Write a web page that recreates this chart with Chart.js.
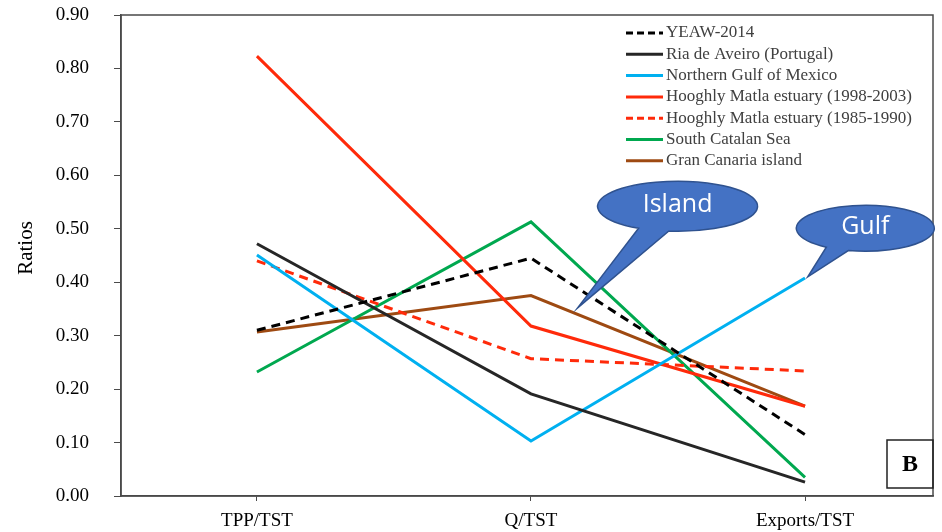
<!DOCTYPE html>
<html>
<head>
<meta charset="utf-8">
<script src="https://cdn.jsdelivr.net/npm/chart.js@4"></script>
<style>
  html, body { margin: 0; padding: 0; background: #fff; }
  #wrap { width: 942px; height: 532px; }
</style>
</head>
<body>
<div id="wrap"><canvas id="chart" width="942" height="532"></canvas></div>
<script>
// ---- data ----
const categories = ['TPP/TST', 'Q/TST', 'Exports/TST'];
const yTicks = [0, 0.1, 0.2, 0.3, 0.4, 0.5, 0.6, 0.7, 0.8, 0.9];

const yeaw2014      = [0.310, 0.445, 0.115];
const riaDeAveiro   = [0.472, 0.191, 0.026];
const gulfMexico    = [0.451, 0.103, 0.408];
const hooghly9803   = [0.823, 0.318, 0.168];
const hooghly8590   = [0.440, 0.257, 0.234];
const southCatalan  = [0.232, 0.513, 0.035];
const granCanaria   = [0.307, 0.375, 0.168];

const seriesNames = [
  'YEAW-2014',
  'Ria de Aveiro (Portugal)',
  'Northern Gulf of Mexico',
  'Hooghly Matla estuary (1998-2003)',
  'Hooghly Matla estuary (1985-1990)',
  'South Catalan Sea',
  'Gran Canaria island'
];
const seriesValues = [yeaw2014, riaDeAveiro, gulfMexico, hooghly9803, hooghly8590, southCatalan, granCanaria];
const seriesColors = ['#000000', '#262626', '#00B0F0', '#FF2A0A', '#FF2A0A', '#00A84F', '#9E4A12'];
const seriesDashed = [true, false, false, false, true, false, false];

// callouts (anchored in data units)
const callouts = [
  { text: 'Island', cx: 1.535, cy: 0.542, rx: 80, ry: 25, tipX: 1.17, tipY: 0.352, base: [-39, -9] },
  { text: 'Gulf',   cx: 2.22,  cy: 0.501, rx: 69, ry: 23, tipX: 2.01, tipY: 0.41,  base: [-39, -17] }
];

const serif = '"Liberation Serif", "Times New Roman", serif';

const datasets = seriesNames.map((name, i) => ({
  label: name,
  data: seriesValues[i].map((v, j) => ({ x: j, y: v })),
  borderColor: seriesColors[i],
  backgroundColor: seriesColors[i],
  borderWidth: 3,
  borderDash: seriesDashed[i] ? [9, 6] : [],
  pointRadius: 0,
  tension: 0,
  fill: false
}));

// frame, legend, axis title, callouts and the "B" box
const extras = {
  id: 'extras',
  afterDatasetsDraw(chart) {
    const ctx = chart.ctx;
    const a = chart.chartArea;
    const xs = chart.scales.x, ys = chart.scales.y;
    ctx.save();

    // frame around the plot
    ctx.strokeStyle = '#4a4a4a';
    ctx.lineWidth = 1.5;
    ctx.strokeRect(a.left, a.top, a.right - a.left, a.bottom - a.top);

    // y axis title
    ctx.save();
    ctx.translate(26, 248);
    ctx.rotate(-Math.PI / 2);
    ctx.font = '21px ' + serif;
    ctx.fillStyle = '#000';
    ctx.textAlign = 'center';
    ctx.textBaseline = 'middle';
    ctx.fillText('Ratios', 0, 0);
    ctx.restore();

    // legend
    ctx.font = '17px ' + serif;
    ctx.textBaseline = 'middle';
    ctx.textAlign = 'left';
    chart.data.datasets.forEach((ds, i) => {
      const y = 33 + i * 21.3;
      ctx.beginPath();
      ctx.setLineDash(ds.borderDash.length ? [7, 4] : []);
      ctx.strokeStyle = ds.borderColor;
      ctx.lineWidth = 3;
      ctx.moveTo(626, y);
      ctx.lineTo(663, y);
      ctx.stroke();
      ctx.setLineDash([]);
      ctx.fillStyle = '#404040';
      ctx.fillText(ds.label, 666, y);
    });

    // callouts
    callouts.forEach(c => {
      const cx = xs.getPixelForValue(c.cx), cy = ys.getPixelForValue(c.cy);
      const tx = xs.getPixelForValue(c.tipX), ty = ys.getPixelForValue(c.tipY);
      const t1 = Math.acos(c.base[0] / c.rx);
      const t2 = Math.acos(c.base[1] / c.rx);
      ctx.beginPath();
      ctx.ellipse(cx, cy, c.rx, c.ry, 0, t1, t2 + Math.PI * 2);
      ctx.lineTo(tx, ty);
      ctx.closePath();
      ctx.fillStyle = '#4472C4';
      ctx.fill();
      ctx.strokeStyle = '#2F528F';
      ctx.lineWidth = 1.5;
      ctx.stroke();
      ctx.fillStyle = '#ffffff';
      ctx.font = '25px "Open Sans", sans-serif';
      ctx.textAlign = 'center';
      ctx.textBaseline = 'middle';
      ctx.fillText(c.text, cx, cy - 1);
    });

    // panel letter
    ctx.strokeStyle = '#222';
    ctx.lineWidth = 1.5;
    ctx.strokeRect(887, 440, 46, 48);
    ctx.fillStyle = '#000';
    ctx.font = 'bold 24px ' + serif;
    ctx.textAlign = 'center';
    ctx.textBaseline = 'middle';
    ctx.fillText('B', 910, 465);

    ctx.restore();
  }
};

new Chart(document.getElementById('chart'), {
  type: 'line',
  data: { datasets },
  options: {
    responsive: false,
    animation: false,
    layout: { padding: { left: 0, top: 15, right: 9, bottom: 0 } },
    plugins: { legend: { display: false }, tooltip: { enabled: false } },
    scales: {
      x: {
        type: 'linear',
        min: -0.496,
        max: 2.467,
        afterBuildTicks: s => { s.ticks = categories.map((c, i) => ({ value: i })); },
        afterFit: s => { s.height = 36; s.paddingLeft = 0; s.paddingRight = 0; },
        border: { display: true, color: '#4a4a4a', width: 1.5 },
        grid: { drawOnChartArea: false, drawTicks: true, tickLength: 5, color: '#4a4a4a' },
        ticks: {
          callback: v => categories[v],
          color: '#000',
          font: { family: serif, size: 19 },
          padding: 9,
          maxRotation: 0
        }
      },
      y: {
        min: 0,
        max: 0.9,
        afterBuildTicks: s => { s.ticks = yTicks.map(v => ({ value: v })); },
        afterFit: s => { s.width = 121; s.paddingTop = 0; s.paddingBottom = 0; },
        border: { display: true, color: '#4a4a4a', width: 1.5 },
        grid: { drawOnChartArea: false, drawTicks: true, tickLength: 7, color: '#4a4a4a' },
        ticks: {
          callback: v => v.toFixed(2),
          color: '#000',
          font: { family: serif, size: 19 },
          padding: 25
        }
      }
    }
  },
  plugins: [extras]
});
</script>
</body>
</html>
